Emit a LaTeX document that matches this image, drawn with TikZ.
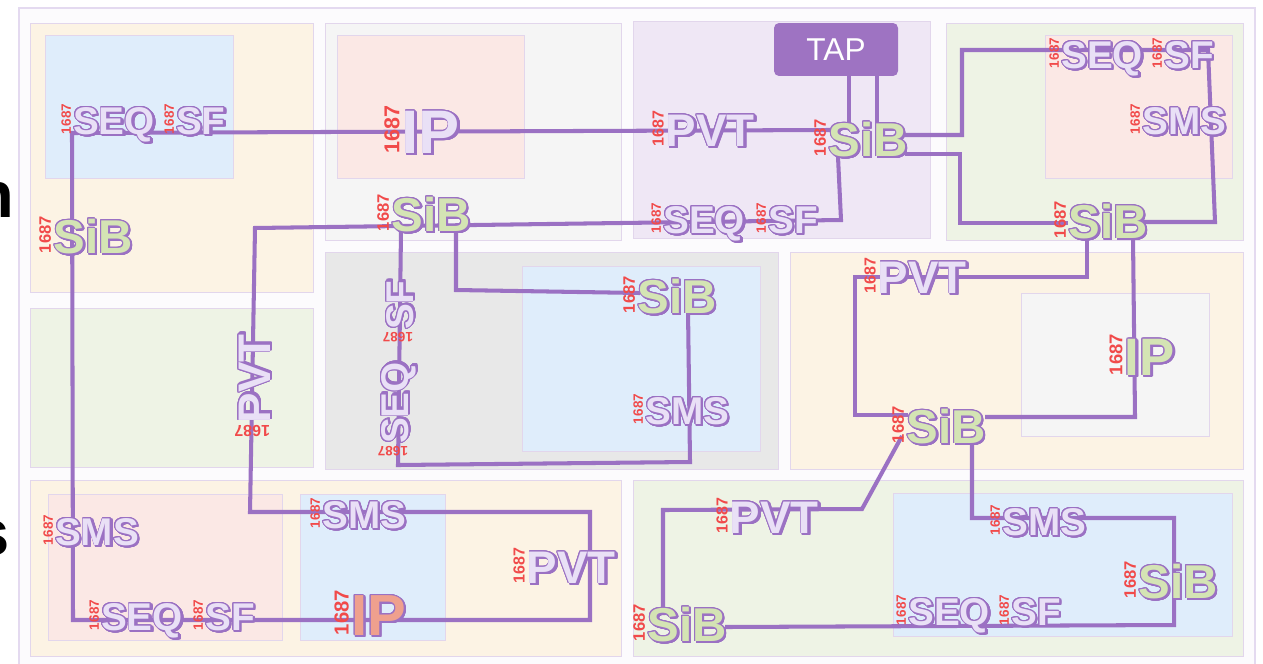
\documentclass[tikz,border=0pt]{standalone}
\usepackage{fontspec}
\setmainfont{Liberation Sans}
\usepackage{graphicx}
\usepackage{contour}
\contourlength{0.5pt}

\definecolor{framebg}{HTML}{FCFBFD}
\definecolor{frameline}{HTML}{E4DAF0}
\definecolor{boxline}{HTML}{E2D6EC}
\definecolor{peach}{HTML}{FCF3E4}
\definecolor{mist}{HTML}{F5F5F5}
\definecolor{lilac}{HTML}{EFE7F5}
\definecolor{sage}{HTML}{EEF3E5}
\definecolor{stone}{HTML}{E8E8E8}
\definecolor{sky}{HTML}{DFEDFB}
\definecolor{rose}{HTML}{FBE8E5}
\definecolor{wire}{HTML}{9B71C3}
\definecolor{tapfill}{HTML}{9E73C2}
\definecolor{lavtext}{HTML}{E9E0F6}
\definecolor{sibtext}{HTML}{D4E4B4}
\definecolor{iptext}{HTML}{EFA08E}
\definecolor{numred}{HTML}{F14A4A}

% label with its red 1687 tag: fill colour, size (pt), text
\newcommand\chiptxt[3]{%
  \pgfmathsetmacro\numsz{0.35*#2}%
  \rotatebox{90}{\fontsize{\numsz}{\numsz}\selectfont\textcolor{numred}{1687}}%
  \kern1.3pt
  \fontsize{#2}{#2}\selectfont
  \rlap{\kern1pt\raisebox{-1pt}{\contour{wire}{\textcolor{wire}{#3}}}}%
  \contour{wire}{\textcolor{#1}{#3}}}

\begin{document}
\begin{tikzpicture}[
  x=0.02cm, y=-0.02cm,
  panel/.style={draw=boxline, line width=0.5pt},
  wire/.style={draw=wire, line width=2.3pt},
  chip/.style={inner sep=0pt, anchor=base west, font=\bfseries},
  tapbox/.style={fill=tapfill, rounded corners=0.1cm, minimum width=2.48cm, minimum height=1.06cm,
    inner sep=0pt, text=white, font=\fontsize{18}{18}\selectfont},
  cut/.style={inner sep=0pt, anchor=base east, font=\bfseries\fontsize{37}{37}\selectfont}
]
\useasboundingbox (0,0) rectangle (1263,663);

% frame and panels
\draw[frameline, fill=framebg, line width=0.9pt] (19,8) rectangle (1255,666);
\draw[panel, fill=peach] (30,23) rectangle (313,292);
\draw[panel, fill=sky] (45,35) rectangle (233,178);
\draw[panel, fill=mist] (325,23) rectangle (621,240);
\draw[panel, fill=rose] (337,35) rectangle (524,178);
\draw[panel, fill=lilac] (633,21) rectangle (930,238);
\draw[panel, fill=sage] (946,23) rectangle (1243,240);
\draw[panel, fill=rose] (1045,35) rectangle (1232,178);
\draw[panel, fill=sage] (30,308) rectangle (313,467);
\draw[panel, fill=stone] (325,252) rectangle (778,469);
\draw[panel, fill=sky] (522,266) rectangle (760,451);
\draw[panel, fill=peach] (790,252) rectangle (1243,469);
\draw[panel, fill=mist] (1021,293) rectangle (1209,436);
\draw[panel, fill=peach] (30,480) rectangle (621,656);
\draw[panel, fill=rose] (48,494) rectangle (282,640);
\draw[panel, fill=sky] (300,494) rectangle (445,640);
\draw[panel, fill=sage] (633,480) rectangle (1243,656);
\draw[panel, fill=sky] (893,493) rectangle (1232,636);

% cut-off text at the left edge
\node[cut] (cutn) at (15,217) {n};
\node[cut] (cuts) at (10,555) {s};

% TAP
\node[tapbox] (tap) at (836,49.5) {TAP};

% scan wires
\draw[wire] (849,76) -- (849,125);
\draw[wire] (877,76) -- (877,150);
\draw[wire] (830,130) -- (72,133) -- (73,620) -- (590,620) -- (590,512) -- (250,512)
  -- (255,228) -- (841,220) -- (838,157);
\draw[wire] (905,135) -- (962,135) -- (962,50) -- (1208,50) -- (1215,222) -- (1143,222);
\draw[wire] (905,154) -- (960,154) -- (960,223) -- (1068,223);
\draw[wire] (1087,238) -- (1087,277) -- (855,277) -- (855,415) -- (908,415);
\draw[wire] (1133,238) -- (1135,417) -- (985,417);
\draw[wire] (902,436) -- (862,509) -- (663,510) -- (663,615);
\draw[wire] (725,627) -- (1174,625) -- (1174,518) -- (972,518) -- (972,443);
\draw[wire] (456,230) -- (456,290) -- (640,293);
\draw[wire] (688,310) -- (690,462) -- (398,465) -- (401,230);

% top row
\node[chip] (seqTL) at (61,134) {\chiptxt{lavtext}{22}{SEQ}};
\node[chip] (sfTL) at (164,134) {\chiptxt{lavtext}{22}{SF}};
\node[chip] (sibTL) at (39,253) {\chiptxt{sibtext}{27}{SiB}};
\node[chip] (ipTM) at (384,153) {\chiptxt{lavtext}{35}{IP}};
\node[chip] (sibTM) at (377,231) {\chiptxt{sibtext}{27}{SiB}};
\node[chip] (pvtTP) at (652,146) {\chiptxt{lavtext}{26}{PVT}};
\node[chip] (sibTP) at (814,156) {\chiptxt{sibtext}{27}{SiB}};
\node[chip] (seqTP) at (651,233) {\chiptxt{lavtext}{22}{SEQ}};
\node[chip] (sfTP) at (756,233) {\chiptxt{lavtext}{22}{SF}};
\node[chip] (seqTR) at (1049,68) {\chiptxt{lavtext}{22}{SEQ}};
\node[chip] (sfTR) at (1152,68) {\chiptxt{lavtext}{22}{SF}};
\node[chip] (smsTR) at (1130,134) {\chiptxt{lavtext}{22}{SMS}};
\node[chip] (sibTR) at (1054,238) {\chiptxt{sibtext}{27}{SiB}};

% middle row
\node[chip, rotate=90] (pvtML) at (270,437) {\chiptxt{lavtext}{26}{PVT}};
\node[chip, rotate=90] (sfC) at (413,342) {\chiptxt{lavtext}{22}{SF}};
\node[chip, rotate=90] (seqC) at (408,456) {\chiptxt{lavtext}{22}{SEQ}};
\node[chip] (sibC) at (623,313) {\chiptxt{sibtext}{27}{SiB}};
\node[chip] (smsC) at (633,424) {\chiptxt{lavtext}{22}{SMS}};
\node[chip] (pvtMR) at (864,293) {\chiptxt{lavtext}{26}{PVT}};
\node[chip] (sibMR) at (892,443) {\chiptxt{sibtext}{27}{SiB}};
\node[chip] (ipMR) at (1109,375) {\chiptxt{sibtext}{30}{IP}};

% bottom row
\node[chip] (smsBL) at (43,545) {\chiptxt{lavtext}{22}{SMS}};
\node[chip] (seqBL) at (89,630) {\chiptxt{lavtext}{22}{SEQ}};
\node[chip] (sfBL) at (193,630) {\chiptxt{lavtext}{22}{SF}};
\node[chip] (smsBM) at (310,528) {\chiptxt{lavtext}{22}{SMS}};
\node[chip] (ipBM) at (334,635) {\chiptxt{iptext}{33}{IP}};
\node[chip] (pvtBL) at (513,583) {\chiptxt{lavtext}{26}{PVT}};
\node[chip] (pvtBR) at (716,533) {\chiptxt{lavtext}{26}{PVT}};
\node[chip] (sibBL) at (633,641) {\chiptxt{sibtext}{27}{SiB}};
\node[chip] (smsBR) at (990,535) {\chiptxt{lavtext}{22}{SMS}};
\node[chip] (sibBR) at (1124,598) {\chiptxt{sibtext}{27}{SiB}};
\node[chip] (seqBR) at (896,625) {\chiptxt{lavtext}{22}{SEQ}};
\node[chip] (sfBR) at (999,625) {\chiptxt{lavtext}{22}{SF}};

\end{tikzpicture}
\end{document}
